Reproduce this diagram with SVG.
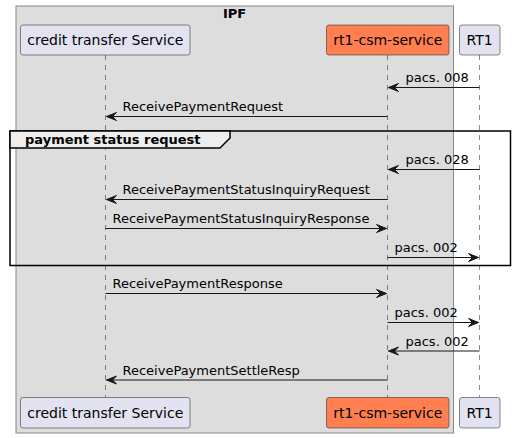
<svg xmlns="http://www.w3.org/2000/svg" width="515" height="438" viewBox="0 0 515 438">
<style>
text{font-family:"DejaVu Sans",sans-serif;fill:#000}
.p{font-size:14px}
.m{font-size:13px}
.b{font-weight:bold;font-size:13px}
.life{stroke:#181818;stroke-width:0.5;stroke-dasharray:5,5;fill:none}
.box{fill:#E2E2F0;stroke:#181818;stroke-width:0.5}
.orange{fill:#FF7F50;stroke:#181818;stroke-width:0.5}
.msg{stroke:#181818;stroke-width:1;fill:none}
.ah{fill:#181818;stroke:#181818;stroke-width:1}
</style>
<rect x="0" y="0" width="515" height="438" fill="#FFFFFF"/>
<g id="IPF">
<rect x="16" y="6" width="437.5" height="427" fill="#DDDDDD" stroke="#888888" stroke-width="1"/>
<text x="234.5" y="18" class="b" text-anchor="middle">IPF</text>
</g>
<g id="lifelines">
<line class="life" x1="105.5" y1="55" x2="105.5" y2="397"/>
<line class="life" x1="387.5" y1="55" x2="387.5" y2="397"/>
<line class="life" x1="479.5" y1="55" x2="479.5" y2="397"/>
</g>
<g id="frame">
<rect x="10" y="131" width="500.5" height="134.5" fill="none" stroke="#000" stroke-width="1.5"/>
<path d="M10,131 L230,131 L230,138 L220,148 L10,148 Z" fill="#EEEEEE" stroke="#000" stroke-width="1.5"/>
<text x="25" y="144" class="b">payment status request</text>
</g>
<g id="connectors">
<line class="msg" x1="479.5" y1="87.5" x2="388.5" y2="87.5"/>
<polygon class="ah" points="388.5,87.5 398.5,83.5 394.5,87.5 398.5,91.5"/>
<text x="405.5" y="82" class="m">pacs. 008</text>

<line class="msg" x1="387.5" y1="116.5" x2="106.5" y2="116.5"/>
<polygon class="ah" points="106.5,116.5 116.5,112.5 112.5,116.5 116.5,120.5"/>
<text x="122.5" y="111" class="m">ReceivePaymentRequest</text>

<line class="msg" x1="479.5" y1="169.5" x2="388.5" y2="169.5"/>
<polygon class="ah" points="388.5,169.5 398.5,165.5 394.5,169.5 398.5,173.5"/>
<text x="405.5" y="164" class="m">pacs. 028</text>

<line class="msg" x1="387.5" y1="199.5" x2="106.5" y2="199.5"/>
<polygon class="ah" points="106.5,199.5 116.5,195.5 112.5,199.5 116.5,203.5"/>
<text x="122.5" y="194" class="m">ReceivePaymentStatusInquiryRequest</text>

<line class="msg" x1="105.5" y1="228.5" x2="386.5" y2="228.5"/>
<polygon class="ah" points="386.5,228.5 376.5,224.5 380.5,228.5 376.5,232.5"/>
<text x="112.5" y="223" class="m">ReceivePaymentStatusInquiryResponse</text>

<line class="msg" x1="387.5" y1="257.5" x2="478.5" y2="257.5"/>
<polygon class="ah" points="478.5,257.5 468.5,253.5 472.5,257.5 468.5,261.5"/>
<text x="394.5" y="252" class="m">pacs. 002</text>

<line class="msg" x1="105.5" y1="293.5" x2="386.5" y2="293.5"/>
<polygon class="ah" points="386.5,293.5 376.5,289.5 380.5,293.5 376.5,297.5"/>
<text x="112.5" y="288" class="m">ReceivePaymentResponse</text>

<line class="msg" x1="387.5" y1="322.5" x2="478.5" y2="322.5"/>
<polygon class="ah" points="478.5,322.5 468.5,318.5 472.5,322.5 468.5,326.5"/>
<text x="394.5" y="317" class="m">pacs. 002</text>

<line class="msg" x1="479.5" y1="351" x2="388.5" y2="351"/>
<polygon class="ah" points="388.5,351 398.5,347 394.5,351 398.5,355"/>
<text x="405.5" y="345.5" class="m">pacs. 002</text>

<line class="msg" x1="387.5" y1="380" x2="106.5" y2="380"/>
<polygon class="ah" points="106.5,380 116.5,376 112.5,380 116.5,384"/>
<text x="122.5" y="374.5" class="m">ReceivePaymentSettleResp</text>
</g>
<g id="credit-top"><rect class="box" x="20.5" y="25" width="169.5" height="30" rx="2.5"/><text x="105.3" y="45" class="p" text-anchor="middle">credit transfer Service</text></g>
<g id="rt1csm-top"><rect class="orange" x="326.5" y="25" width="122.5" height="30" rx="2.5"/><text x="387.8" y="45" class="p" text-anchor="middle">rt1-csm-service</text></g>
<g id="RT1-top"><rect class="box" x="459.5" y="25" width="40.5" height="30" rx="2.5"/><text x="479.7" y="45" class="p" text-anchor="middle">RT1</text></g>
<g id="credit-bottom"><rect class="box" x="20.5" y="397.5" width="169.5" height="30.5" rx="2.5"/><text x="105.3" y="418" class="p" text-anchor="middle">credit transfer Service</text></g>
<g id="rt1csm-bottom"><rect class="orange" x="326.5" y="397.5" width="122.5" height="30.5" rx="2.5"/><text x="387.8" y="418" class="p" text-anchor="middle">rt1-csm-service</text></g>
<g id="RT1-bottom"><rect class="box" x="459.5" y="397.5" width="40.5" height="30.5" rx="2.5"/><text x="479.7" y="418" class="p" text-anchor="middle">RT1</text></g>
</svg>
